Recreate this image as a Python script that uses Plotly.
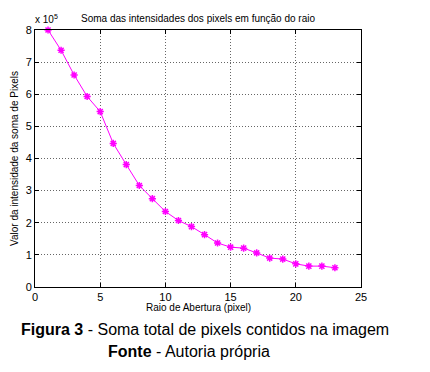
import plotly.graph_objects as go

raio = list(range(1, 24))
soma = [800000, 737000, 660000, 593000, 546000, 447000, 381000, 316000, 275000,
        235000, 207000, 188000, 163000, 137000, 124000, 121000, 106000, 90000,
        87000, 72000, 65000, 65000, 60000]
x_ticks = [0, 5, 10, 15, 20, 25]
y_ticks = [0, 100000, 200000, 300000, 400000, 500000, 600000, 700000, 800000]
y_ticktext = ["0", "1", "2", "3", "4", "5", "6", "7", "8"]

FONT = "Liberation Sans, Arial, sans-serif"
OFF = 8  # page body margin
W, H = 430 - OFF, 372 - OFF
L, R, T, B = 35 - OFF, 361 - OFF, 30 - OFF, 287 - OFF

fig = go.Figure()
fig.add_trace(go.Scatter(
    x=raio, y=soma, mode="lines+markers",
    line=dict(color="#ff00ff", width=1),
    marker=dict(symbol="asterisk-open", size=6, color="#ff00ff",
                line=dict(color="#ff00ff", width=1.5)),
    cliponaxis=False, showlegend=False,
))

axis_common = dict(
    showline=True, linecolor="black", linewidth=1, mirror="ticks",
    ticks="inside", ticklen=4, tickcolor="black",
    showgrid=True, gridcolor="#666666", griddash="1px,2px", gridwidth=1,
    zeroline=False,
    tickfont=dict(family=FONT, size=11, color="black"),
)

fig.update_xaxes(range=[0, 25], tickvals=x_ticks, **axis_common)
fig.update_yaxes(range=[0, 800000], tickvals=y_ticks, ticktext=y_ticktext, **axis_common)

ann = [
    dict(text="Soma das intensidades dos pixels em função do raio", x=198, y=19,
         font=dict(size=10)),
    dict(text="x 10<sup>5</sup>", x=46, y=19, font=dict(size=10)),
    dict(text="Raio de Abertura (pixel)", x=198, y=307, font=dict(size=10)),
    dict(text="Valor da intensidade da soma de Pixels", x=14, y=159, textangle=-90,
         font=dict(size=10)),
    dict(text="<b>Figura 3</b> - Soma total de pixels contidos na imagem", x=205, y=329,
         font=dict(size=16)),
    dict(text="<b>Fonte</b> - Autoria própria", x=189, y=351, font=dict(size=16)),
]
annotations = []
for a in ann:
    f = dict(family=FONT, color="black")
    f.update(a.pop("font"))
    px, py = a.pop("x") - OFF, a.pop("y") - OFF
    annotations.append(dict(
        xref="paper", yref="paper",
        x=(px - L) / (R - L), y=(B - py) / (B - T),
        xanchor="center", yanchor="middle", showarrow=False, font=f, **a))

fig.update_layout(
    width=W, height=H,
    margin=dict(l=L, r=W - R, t=T, b=H - B, pad=0),
    paper_bgcolor="white", plot_bgcolor="white",
    annotations=annotations,
)

fig.write_html("out.html")
